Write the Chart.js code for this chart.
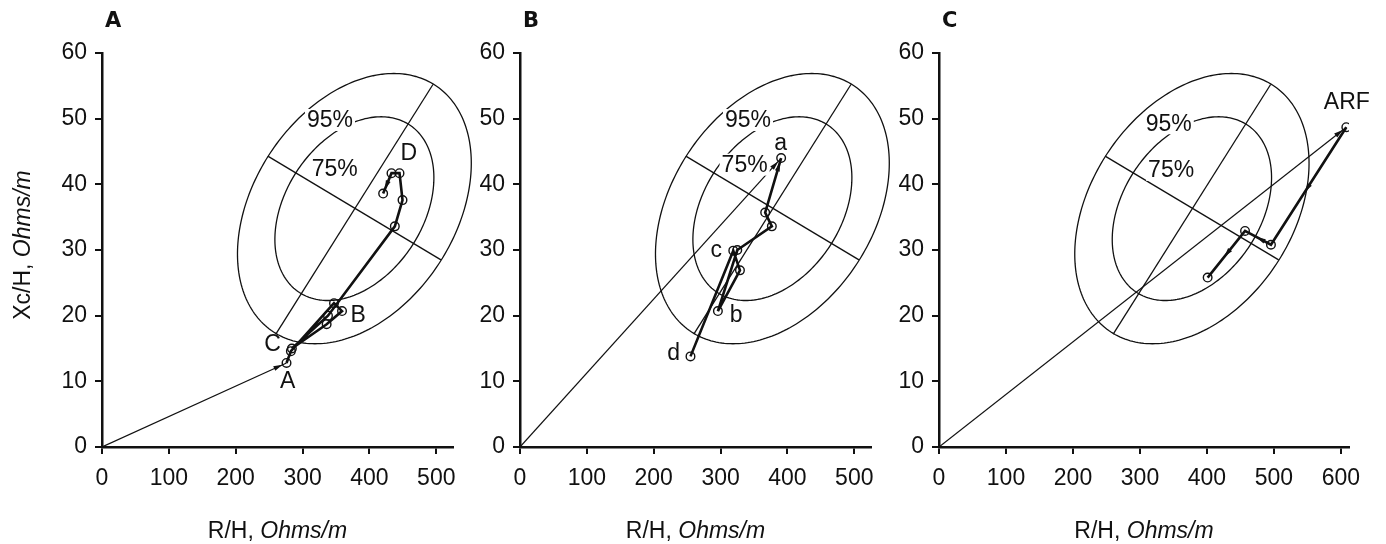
<!DOCTYPE html>
<html><head><meta charset="utf-8">
<script src="https://cdn.jsdelivr.net/npm/chart.js@4.4.1/dist/chart.umd.min.js"></script>
<style>
html,body{margin:0;padding:0;background:#fff;width:1386px;height:544px;overflow:hidden;}
canvas{position:absolute;top:0;}
</style></head><body>
<canvas id="pA" width="490" height="544" style="left:0px"></canvas>
<canvas id="pB" width="490" height="544" style="left:418px"></canvas>
<canvas id="pC" width="549" height="544" style="left:837px"></canvas>
<script>
// ---------- data ----------
const panelLetters = ['A', 'B', 'C'];
const xAxisMax = [525, 525, 612];
const yAxisMax = 60;
const xTickValues = [
  [0, 100, 200, 300, 400, 500],
  [0, 100, 200, 300, 400, 500],
  [0, 100, 200, 300, 400, 500, 600]
];
const yTickValues = [0, 10, 20, 30, 40, 50, 60];
const xTitleMain = 'R/H, ';
const xTitleUnit = 'Ohms/m';
const yTitleMain = 'Xc/H, ';
const yTitleUnit = 'Ohms/m';

// reference tolerance ellipse (95%) axes end points, R/H and Xc/H
const ellMajorR  = [260, 495];
const ellMajorXc = [17.2, 55.2];
const ellMinorR  = [248, 507];
const ellMinorXc = [44.3, 28.5];
const toleranceLabels = ['95%', '75%'];
const toleranceScale  = [1, 0.68];

// tolerance label positions per panel (R/H, Xc/H)
const tolLabelR  = [[341, 348], [341, 336], [343, 346.5]];
const tolLabelXc = [[49.8, 42.4], [49.8, 43.0], [49.3, 42.2]];

// panel A
const vecA_R  = [0, 276];
const vecA_Xc = [0, 12.8];
const trajA_R  = [276, 282.5, 347, 359, 336, 284, 338, 438, 449.5, 445, 433, 420.5];
const trajA_Xc = [12.8, 14.6, 21.9, 20.7, 18.7, 15.0, 20.0, 33.6, 37.6, 41.7, 41.7, 38.6];
const labelsA     = ['A', 'C', 'B', 'D'];
const labelsA_R   = [277.6, 255, 383, 459];
const labelsA_Xc  = [10.1, 15.8, 20.2, 44.8];

// panel B
const vecB_R  = [0, 390.6];
const vecB_Xc = [0, 44.0];
const trajB_R  = [255, 319, 329, 296, 325, 376.7, 366.7, 390.6];
const trajB_Xc = [13.8, 29.9, 26.9, 20.7, 30.0, 33.6, 35.7, 44.0];
const labelsB     = ['a', 'c', 'b', 'd'];
const labelsB_R   = [389.7, 293.5, 323.3, 229.7];
const labelsB_Xc  = [46.3, 30.1, 20.2, 14.4];

// panel C
const vecC_R  = [0, 608];
const vecC_Xc = [0, 48.7];
const trajC_R  = [608, 495.5, 456.8, 401];
const trajC_Xc = [48.7, 30.8, 32.9, 25.8];
const labelsC     = ['ARF'];
const labelsC_R   = [608.8];
const labelsC_Xc  = [52.6];

// ---------- drawing ----------
const FONT = "'Liberation Sans', Arial, Helvetica, sans-serif";
const INK = '#111';
const FS = 23;

const toXY = (xs, ys) => xs.map((v, i) => ({x: v, y: ys[i]}));

function arrowHead(ctx, x1, y1, x2, y2, len, wid) {
  const ang = Math.atan2(y2 - y1, x2 - x1);
  ctx.save();
  ctx.translate(x2, y2);
  ctx.rotate(ang);
  ctx.beginPath();
  ctx.moveTo(0, 0);
  ctx.lineTo(-len, wid / 2);
  ctx.lineTo(-len, -wid / 2);
  ctx.closePath();
  ctx.fill();
  ctx.restore();
}

function drawMixed(ctx, main, unit, cx, cy) {
  ctx.font = `${FS}px ${FONT}`;
  const w1 = ctx.measureText(main).width;
  ctx.font = `italic ${FS}px ${FONT}`;
  const w2 = ctx.measureText(unit).width;
  let x = cx - (w1 + w2) / 2;
  ctx.textAlign = 'left';
  ctx.textBaseline = 'middle';
  ctx.font = `${FS}px ${FONT}`;
  ctx.fillText(main, x, cy);
  ctx.font = `italic ${FS}px ${FONT}`;
  ctx.fillText(unit, x + w1, cy);
}

function buildPanel(idx, canvasId, vecR, vecXc, trajR, trajXc, lab, labR, labXc, trajArrow, showYTitle) {
  const ellipsePlugin = {
    id: 'ellipse' + idx,
    beforeDatasetsDraw(chart) {
      const {ctx, scales: {x, y}} = chart;
      const cR = (ellMajorR[0] + ellMajorR[1] + ellMinorR[0] + ellMinorR[1]) / 4;
      const cX = (ellMajorXc[0] + ellMajorXc[1] + ellMinorXc[0] + ellMinorXc[1]) / 4;
      const c = [x.getPixelForValue(cR), y.getPixelForValue(cX)];
      const a = [x.getPixelForValue(ellMajorR[1]), y.getPixelForValue(ellMajorXc[1])];
      const a0 = [x.getPixelForValue(ellMajorR[0]), y.getPixelForValue(ellMajorXc[0])];
      const b = [x.getPixelForValue(ellMinorR[1]), y.getPixelForValue(ellMinorXc[1])];
      const b0 = [x.getPixelForValue(ellMinorR[0]), y.getPixelForValue(ellMinorXc[0])];
      const u = [(a[0] - a0[0]) / 2, (a[1] - a0[1]) / 2];
      const v = [(b[0] - b0[0]) / 2, (b[1] - b0[1]) / 2];
      ctx.save();
      ctx.strokeStyle = INK;
      ctx.lineWidth = 1.3;
      toleranceScale.forEach(s => {
        ctx.beginPath();
        for (let k = 0; k <= 240; k++) {
          const t = k / 240 * Math.PI * 2;
          const px = c[0] + s * (u[0] * Math.cos(t) + v[0] * Math.sin(t));
          const py = c[1] + s * (u[1] * Math.cos(t) + v[1] * Math.sin(t));
          if (k === 0) ctx.moveTo(px, py); else ctx.lineTo(px, py);
        }
        ctx.closePath();
        ctx.stroke();
      });
      ctx.restore();
    },
    afterDatasetsDraw(chart) {
      const {ctx, scales: {x, y}, chartArea} = chart;
      ctx.save();
      ctx.fillStyle = INK;
      // arrows
      chart.data.datasets.forEach((ds, i) => {
        if (!ds.arrow) return;
        const pts = chart.getDatasetMeta(i).data;
        for (let j = 1; j < pts.length; j++) {
          const p0 = pts[j - 1], p1 = pts[j];
          const dx = p1.x - p0.x, dy = p1.y - p0.y;
          const L = Math.hypot(dx, dy);
          if (L < 12) continue;
          if (ds.arrow === 'end' && j !== pts.length - 1) continue;
          let tx, ty;
          if (ds.arrow === 'mid') { tx = p0.x + dx * 0.55; ty = p0.y + dy * 0.55; }
          else { tx = p1.x - dx / L * 4.5; ty = p1.y - dy / L * 4.5; }
          arrowHead(ctx, p0.x, p0.y, tx, ty, 9, 5);
        }
      });
      // tolerance labels
      ctx.font = `${FS}px ${FONT}`;
      ctx.textAlign = 'center';
      ctx.textBaseline = 'middle';
      toleranceLabels.forEach((t, k) => {
        const px = x.getPixelForValue(tolLabelR[idx][k]);
        const py = y.getPixelForValue(tolLabelXc[idx][k]);
        const w = ctx.measureText(t).width;
        ctx.fillStyle = '#fff';
        ctx.fillRect(px - w / 2 - 2, py - 11, w + 4, 22);
        ctx.fillStyle = INK;
        ctx.fillText(t, px, py + 1);
      });
      // point labels
      lab.forEach((t, k) => {
        ctx.fillText(t, x.getPixelForValue(labR[k]), y.getPixelForValue(labXc[k]) + 1);
      });
      // panel letter
      ctx.font = `bold 21px 'DejaVu Sans', ${FONT}`;
      ctx.textAlign = 'left';
      ctx.fillText(panelLetters[idx], chartArea.left + 3, 22);
      // axis titles
      drawMixed(ctx, xTitleMain, xTitleUnit, (chartArea.left + chartArea.right) / 2, 532);
      if (showYTitle) {
        ctx.save();
        ctx.translate(24, 245);
        ctx.rotate(-Math.PI / 2);
        drawMixed(ctx, yTitleMain, yTitleUnit, 0, 0);
        ctx.restore();
      }
      ctx.restore();
    }
  };

  const tickFont = {family: FONT, size: FS};
  const gridCfg = {drawOnChartArea: false, drawTicks: true, tickLength: 7, color: INK, lineWidth: 2};
  const borderCfg = {display: true, color: INK, width: 2.5};

  return new Chart(document.getElementById(canvasId), {
    type: 'scatter',
    data: {
      datasets: [
        {label: 'major axis', data: toXY(ellMajorR, ellMajorXc), showLine: true, borderColor: INK, borderWidth: 1.3, pointRadius: 0},
        {label: 'minor axis', data: toXY(ellMinorR, ellMinorXc), showLine: true, borderColor: INK, borderWidth: 1.3, pointRadius: 0},
        {label: 'vector', data: toXY(vecR, vecXc), showLine: true, borderColor: INK, borderWidth: 1.2, pointRadius: 0, arrow: 'end'},
        {label: 'trajectory', data: toXY(trajR, trajXc), showLine: true, borderColor: INK, borderWidth: 2.6,
         pointRadius: 4.3, pointBorderWidth: 1.4, pointBackgroundColor: 'rgba(255,255,255,0)', pointBorderColor: INK, arrow: trajArrow}
      ]
    },
    options: {
      responsive: false,
      devicePixelRatio: 1,
      animation: false,
      events: [],
      layout: {padding: {left: 0, right: 37, top: 53, bottom: 0}},
      plugins: {legend: {display: false}, tooltip: {enabled: false}},
      scales: {
        x: {
          type: 'linear', min: 0, max: xAxisMax[idx],
          afterBuildTicks(s) { s.ticks = xTickValues[idx].map(v => ({value: v})); },
          afterFit(s) { s.height = 97; },
          ticks: {color: INK, font: tickFont, padding: 11, maxRotation: 0, autoSkip: false},
          grid: gridCfg, border: borderCfg
        },
        y: {
          type: 'linear', min: 0, max: yAxisMax,
          afterBuildTicks(s) { s.ticks = yTickValues.map(v => ({value: v})); },
          afterFit(s) { s.width = 102; },
          ticks: {color: INK, font: tickFont, padding: 8, autoSkip: false},
          grid: gridCfg, border: borderCfg
        }
      }
    },
    plugins: [ellipsePlugin]
  });
}

buildPanel(0, 'pA', vecA_R, vecA_Xc, trajA_R, trajA_Xc, labelsA, labelsA_R, labelsA_Xc, 'end', true);
buildPanel(1, 'pB', vecB_R, vecB_Xc, trajB_R, trajB_Xc, labelsB, labelsB_R, labelsB_Xc, 'end', false);
buildPanel(2, 'pC', vecC_R, vecC_Xc, trajC_R, trajC_Xc, labelsC, labelsC_R, labelsC_Xc, 'mid', false);
</script>
</body></html>
